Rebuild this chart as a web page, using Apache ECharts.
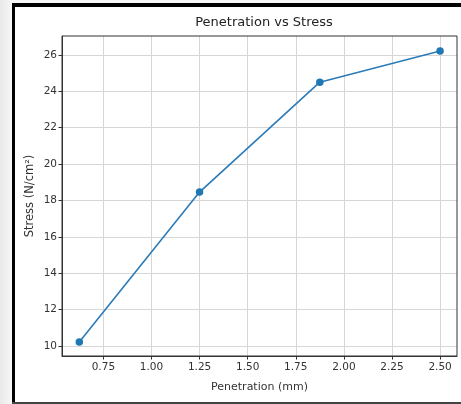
<!DOCTYPE html>
<html><head><meta charset="utf-8">
<script src="https://cdn.jsdelivr.net/npm/echarts@6/dist/echarts.min.js"></script>
<style>
html,body{margin:0;padding:0;width:461px;height:404px;overflow:hidden;background:linear-gradient(to right,#e9e9e9,#f7f7f7 12px);}
#frame{position:absolute;left:12px;top:3px;width:449px;height:399px;background:#000;}
#inner{position:absolute;left:15px;top:7px;width:446px;height:395px;background:#fff;}
#bottom{position:absolute;left:12px;top:402px;width:449px;height:2px;background:#444;}
#chart{position:absolute;left:0;top:0;width:461px;height:404px;}
</style></head>
<body>
<div id="frame"></div><div id="inner"></div><div id="bottom"></div>
<div id="chart"></div>
<script>
const penetration = [0.625, 1.25, 1.875, 2.5];
const stress = [10.22, 18.46, 24.5, 26.22];
const xTicks = [0.75, 1.00, 1.25, 1.50, 1.75, 2.00, 2.25, 2.50];
const yTicks = [10, 12, 14, 16, 18, 20, 22, 24, 26];

const chart = echarts.init(document.getElementById('chart'), null, {renderer:'canvas'});
const font = 'DejaVu Sans';
chart.setOption({
  backgroundColor: 'transparent',
  animation: false,
  title: {
    text: 'Penetration vs Stress', left: 259, top: 11, textAlign: 'center',
    textStyle: {fontFamily: font, fontSize: 13, fontWeight: 'normal', color: '#222'}
  },
  grid: {left: 62, right: 4, top: 36, bottom: 48},
  xAxis: {
    type: 'value', min: 0.535, max: 2.588,
    name: 'Penetration (mm)', nameLocation: 'middle', nameGap: 26,
    nameTextStyle: {fontFamily: font, fontSize: 11, color: '#333'},
    axisLine: {show: true, onZero: false, lineStyle: {color: '#333', width: 1}},
    axisTick: {show: true, inside: false, length: 3.5, customValues: xTicks, lineStyle: {color: '#333'}},
    axisLabel: {customValues: xTicks, margin: 6, fontFamily: font, fontSize: 10.5, color: '#333',
      formatter: v => v.toFixed(2)},
    splitLine: {show: true, lineStyle: {color: '#d6d6d6', width: 1}}
  },
  yAxis: {
    type: 'value', min: 9.45, max: 27.04,
    name: 'Stress (N/cm²)', nameLocation: 'middle', nameGap: 26, nameMoveOverlap: false,
    nameTextStyle: {fontFamily: font, fontSize: 11.5, color: '#333'},
    axisLine: {show: true, onZero: false, lineStyle: {color: '#333', width: 1}},
    axisTick: {show: true, length: 3.5, customValues: yTicks, lineStyle: {color: '#333'}},
    axisLabel: {customValues: yTicks, margin: 5, fontFamily: font, fontSize: 10.5, color: '#333'},
    splitLine: {show: true, lineStyle: {color: '#d6d6d6', width: 1}}
  },
  series: [{
    type: 'line',
    data: penetration.map((x, i) => [x, stress[i]]),
    symbol: 'circle', symbolSize: 7.5,
    itemStyle: {color: '#1f77b4'},
    lineStyle: {color: '#2b7bb9', width: 1.6}
  }]
});
chart.setOption({
  graphic: [{
    type: 'rect', shape: {x: 62, y: 36, width: 395, height: 320},
    style: {fill: 'none', stroke: '#333', lineWidth: 1}, silent: true, z: 100
  }]
});
</script>
</body></html>
